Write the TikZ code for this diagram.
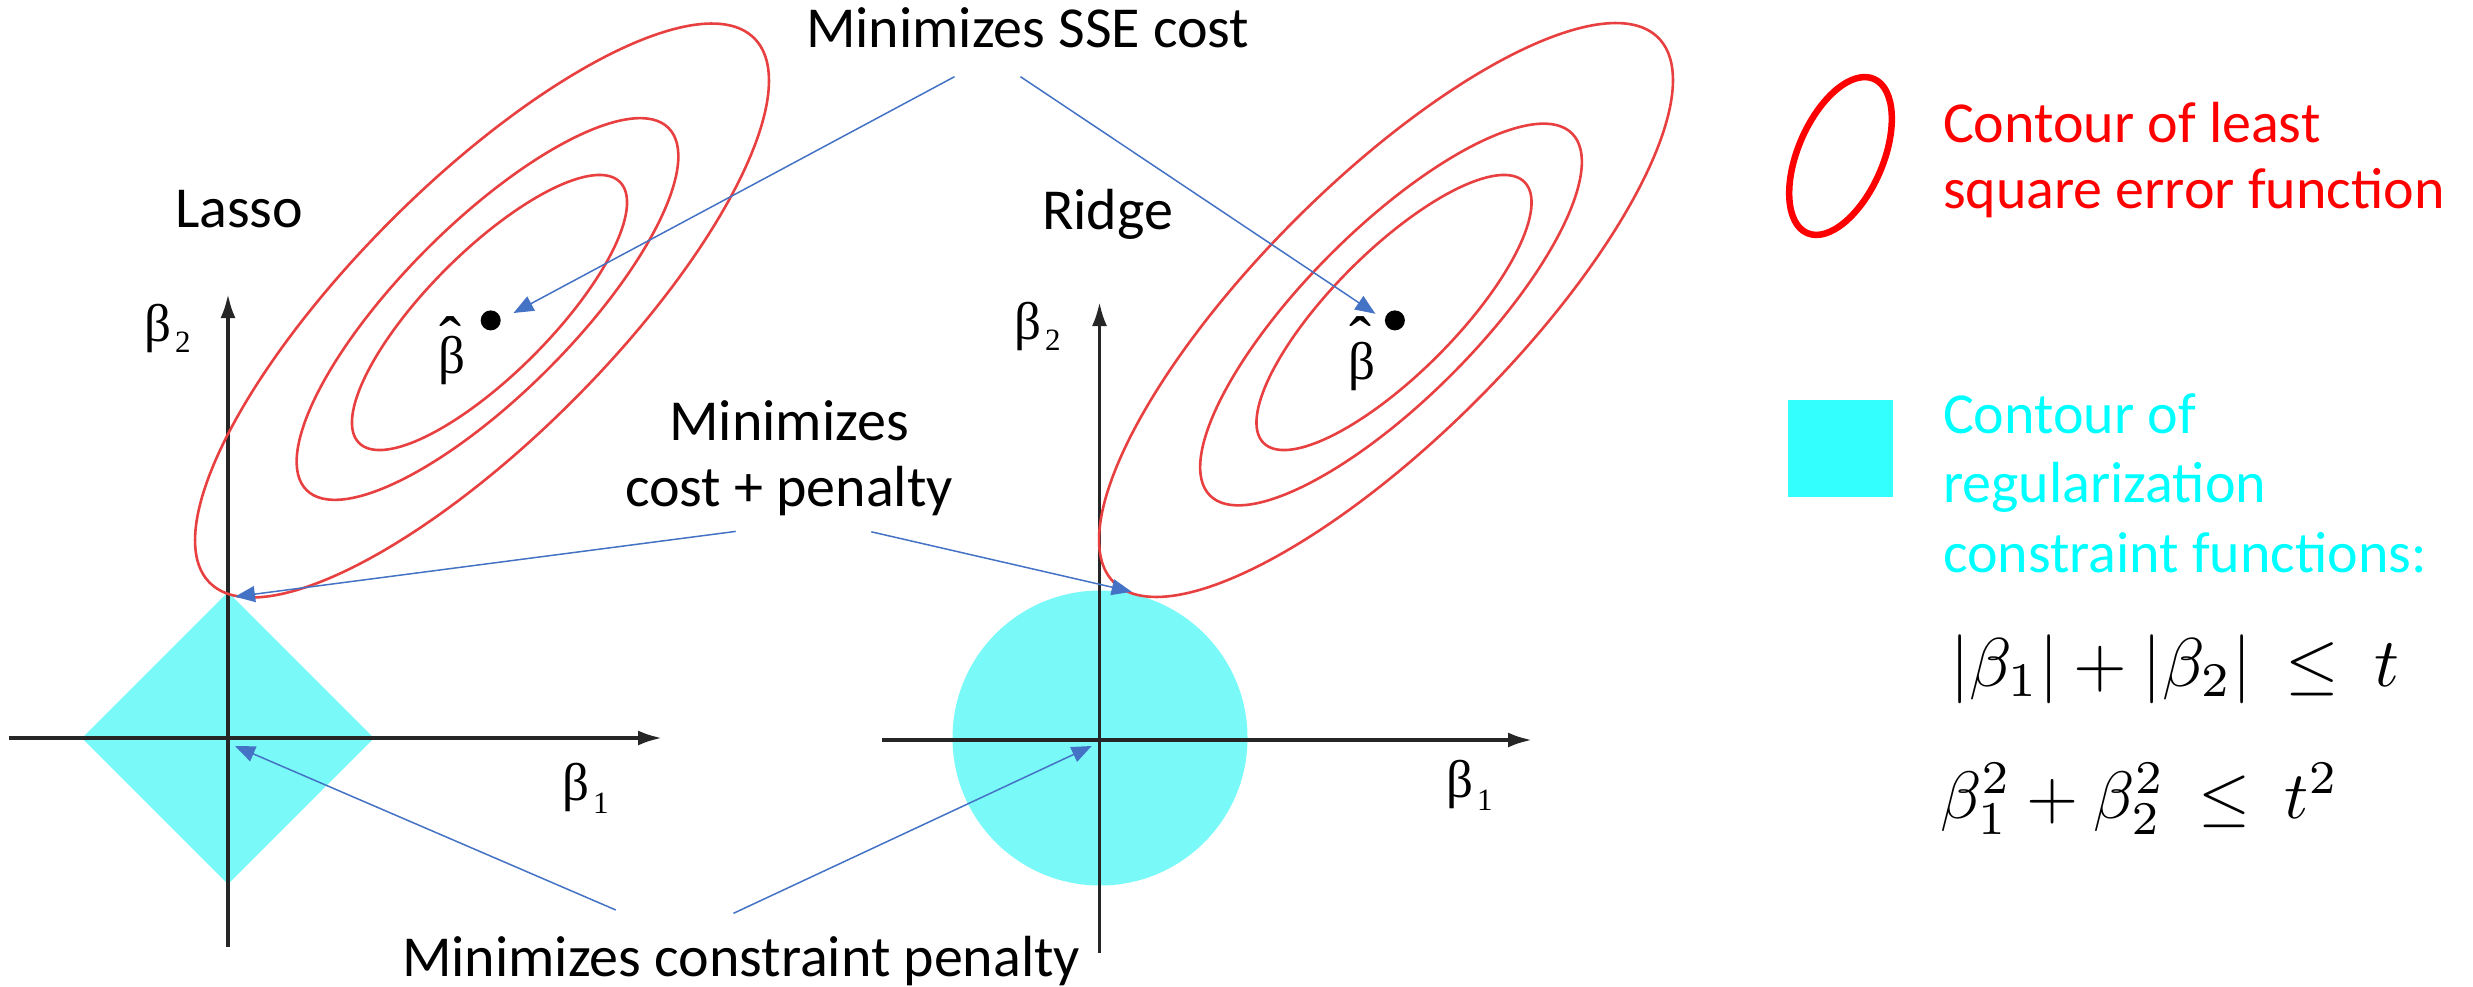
\documentclass[tikz,border=0pt]{standalone}
\usepackage{graphicx}
\usepackage{fontspec}
\setmainfont{Carlito}
\newfontfamily\grk{Liberation Serif}
\usetikzlibrary{arrows.meta}
\definecolor{contred}{RGB}{232,64,64}
\definecolor{regfill}{RGB}{122,249,249}
\definecolor{legcyan}{RGB}{51,255,255}
\definecolor{txtcyan}{RGB}{0,255,255}
\definecolor{leadblue}{RGB}{68,114,196}
\begin{document}
\begin{tikzpicture}[x=1pt,y=-1pt,
  lbl/.style={font=\fontsize{58}{66}\selectfont, inner sep=0pt, outer sep=0pt},
  grklbl/.style={font=\grk\fontsize{53}{53}\selectfont, inner sep=0pt, anchor=base west},
  hatlbl/.style={font=\grk\fontsize{66}{66}\selectfont, inner sep=0pt, anchor=base},
  axisline/.style={line width=3.5pt, draw=black!85, -{Latex[length=24pt,width=15pt]}},
  contour/.style={draw=contred, line width=2.6pt},
  lead/.style={draw=leadblue, line width=1.5pt, -{Triangle[length=20pt,width=16pt]}},
  dot/.style={circle, fill=black, inner sep=0pt, minimum size=20pt},
  formula/.style={font=\normalsize, inner sep=0pt, anchor=base west}
]
\useasboundingbox (0,0) rectangle (2473,987);

% ---------- constraint regions ----------
\fill[regfill] (82,738) -- (228,592) -- (374,738) -- (228,884) -- cycle;
\fill[regfill] (1100,738) circle [radius=147.5];

% ---------- axes ----------
\coordinate (oL) at (228,738);
\coordinate (oR) at (1099.5,740);
\draw[axisline] (9,738) -- (662,738);
\draw[axisline] (228,947) -- (228,294);
\draw[axisline] (882,740) -- (1532,740);
\draw[axisline] (1099.5,953) -- (1099.5,302);

% ---------- SSE contours ----------
\foreach \cx/\cy/\a/\b in {482/310.5/385/128, 487.5/309/256/85.3, 489.5/312.5/184.5/61.5}
  \draw[contour, rotate around={45:(\cx,\cy)}] (\cx,\cy) ellipse [x radius=\a, y radius=\b];
\foreach \cx/\cy/\a/\b in {1386/310/385/128, 1391/314.5/256/85.3, 1394/312.5/184.5/61.5}
  \draw[contour, rotate around={45:(\cx,\cy)}] (\cx,\cy) ellipse [x radius=\a, y radius=\b];

% ---------- beta hat points ----------
\node[dot] (dotL) at (490.7,320.4) {};
\node[dot] (dotR) at (1394.9,320.4) {};
\node[hatlbl] (hatL) at (450,362) {ˆ};
\node[grklbl] (bhL) at (438,373) {β};
\node[hatlbl] (hatR) at (1360,362) {ˆ};
\node[grklbl] (bhR) at (1348,379) {β};

% ---------- axis labels ----------
\node[grklbl] (b2L) at (144,341) {β\kern4pt\raisebox{-11pt}{\fontsize{31}{31}\selectfont 2}};
\node[grklbl] (b1L) at (562,800) {β\kern4pt\raisebox{-13pt}{\fontsize{31}{31}\selectfont 1}};
\node[grklbl] (b2R) at (1014,339) {β\kern4pt\raisebox{-11pt}{\fontsize{31}{31}\selectfont 2}};
\node[grklbl] (b1R) at (1446,797) {β\kern4pt\raisebox{-13pt}{\fontsize{31}{31}\selectfont 1}};

% ---------- titles ----------
\node[lbl, anchor=base west] (lasso) at (175,228) {Lasso};
\node[lbl, anchor=base west] (ridge) at (1042,229.7) {Ridge};

% ---------- annotations ----------
\node[lbl, anchor=base west] (sse) at (806,48) {Minimizes SSE cost};
\node[lbl, anchor=base, align=center] (cp) at (789,506.6) {Minimizes\\cost + penalty};
\node[lbl, anchor=base west] (cons) at (402,976) {Minimizes constraint penalty};

\coordinate (sseA) at (954.5,76.7);
\coordinate (sseB) at (1020.5,76.7);
\coordinate (cpA) at (735.7,531.4);
\coordinate (cpB) at (871.3,531.8);
\coordinate (consA) at (615.8,910);
\coordinate (consB) at (733.5,913.3);
\coordinate (tipSseL) at (513.5,313);
\coordinate (tipSseR) at (1375.4,313.8);
\coordinate (tipCpL) at (235,596.7);
\coordinate (tipCpR) at (1131.7,591.7);
\coordinate (tipConsL) at (235,746);
\coordinate (tipConsR) at (1091.7,746);

\draw[lead] (sseA) -- (tipSseL);
\draw[lead] (sseB) -- (tipSseR);
\draw[lead] (cpA) -- (tipCpL);
\draw[lead] (cpB) -- (tipCpR);
\draw[lead] (consA) -- (tipConsL);
\draw[lead] (consB) -- (tipConsR);

% ---------- legend ----------
\draw[draw=red, line width=6.5pt, rotate around={66.6:(1840.5,156)}] (1840.5,156) ellipse [x radius=84, y radius=42.5];
\node[lbl, anchor=base west, align=left, text=red] (legA) at (1943,208) {Contour of least\\square error function};
\fill[legcyan] (1788,400) rectangle (1893,497);
\node[lbl, anchor=base west, align=left, text=txtcyan, font=\fontsize{58}{69.5}\selectfont] (legB) at (1943,572) {Contour of\\regularization\\constraint functions:};
\node[formula] (f1) at (1950,686) {\scalebox{6.9}{$|\beta_1| + |\beta_2|\ \leq\ t$}};
\node[formula] (f2) at (1940,818) {\scalebox{6.7}{$\beta_1^2 + \beta_2^2\ \leq\ t^2$}};
\end{tikzpicture}
\end{document}
